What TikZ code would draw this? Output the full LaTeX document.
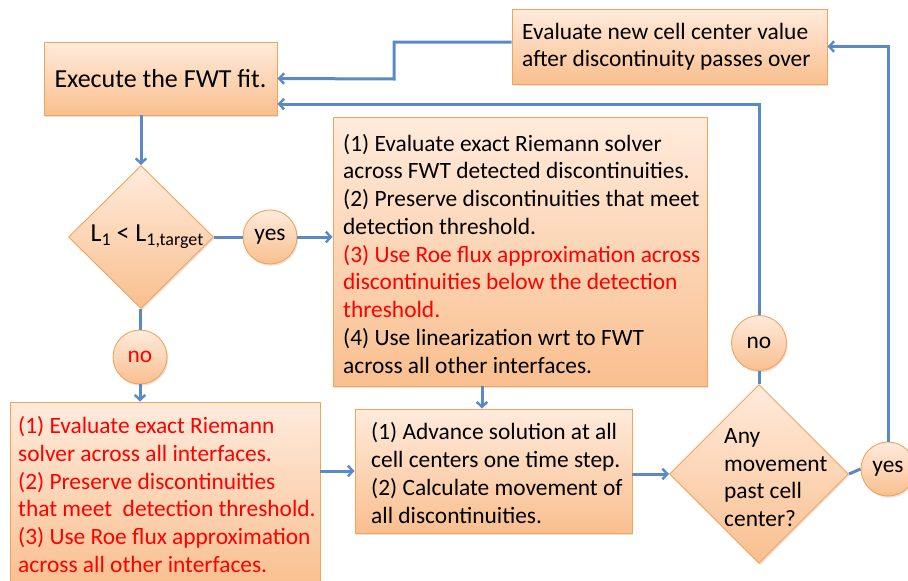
\documentclass[tikz,border=0pt]{standalone}
\usepackage{fontspec}
\setmainfont{Carlito}
\usetikzlibrary{shapes.geometric,arrows.meta,shadows}

\definecolor{boxtop}{HTML}{FFEBDC}
\definecolor{boxbot}{HTML}{F9BF8F}
\definecolor{boxline}{HTML}{F5A35A}
\definecolor{flowblue}{HTML}{5A8AC6}

\newcommand{\bodyfont}{\fontsize{23.4}{27.75}\selectfont}
\newcommand{\bigfont}{\fontsize{26}{30}\selectfont}
\newcommand{\subfont}{\fontsize{18}{18}\selectfont}
\newcommand{\lsub}[1]{\raisebox{-4pt}{\subfont #1}}
% stacked lines that never re-wrap
\newcommand{\textlines}[1]{\begin{tabular}{@{}l@{}}#1\end{tabular}}

\tikzset{
  shade/.style={draw=boxline, line width=0.9pt, top color=boxtop, bottom color=boxbot,
    drop shadow={shadow xshift=1.2pt, shadow yshift=-1.8pt, opacity=0.22}},
  box/.style={shade, rectangle, inner sep=0pt},
  boxtext/.style={inner sep=0pt, anchor=west, font=\bodyfont},
  decision/.style={shade, diamond, inner sep=0pt},
  answer/.style={shade, circle, inner sep=0pt, minimum size=54pt, font=\bodyfont},
  flow/.style={draw=flowblue, line width=3pt, line cap=butt,
    -{Straight Barb[length=5pt, width=10.5pt, line width=2.4pt]}},
  link/.style={draw=flowblue, line width=3pt}
}

\begin{document}
\begin{tikzpicture}[x=1pt, y=-1pt]
\useasboundingbox (0,0) rectangle (908,581);

% process boxes
\node[box, minimum width=233pt, minimum height=73pt, font=\bigfont]
  (exe) at (160.5,78.5) {Execute the FWT fit.};

\node[box, minimum width=315pt, minimum height=75pt] (eval) at (669.5,46.5) {};
\node[boxtext] (evaltxt) at (522,47.5)
  {\textlines{Evaluate new cell center value\\after discontinuity passes over}};

\node[box, minimum width=374pt, minimum height=269pt] (mid) at (520,251.5) {};
\node[boxtext] (midtxt) at (343,256.5) {\textlines{(1) Evaluate exact Riemann solver\\
    across FWT detected discontinuities.\\
    (2) Preserve discontinuities that meet\\
    detection threshold.\\
    \textcolor{red}{(3) Use Roe flux approximation across}\\
    \textcolor{red}{discontinuities below the detection}\\
    \textcolor{red}{threshold.}\\
    (4) Use linearization wrt to FWT\\
    across all other interfaces.}};

\node[box, minimum width=310pt, minimum height=186pt] (lb) at (165,495) {};
\node[boxtext, text=red] (lbtxt) at (18,497.5) {\textlines{(1) Evaluate exact Riemann\\
    solver across all interfaces.\\
    (2) Preserve discontinuities\\
    that meet\ \ detection threshold.\\
    (3) Use Roe flux approximation\\
    across all other interfaces.}};

\node[box, minimum width=277pt, minimum height=124pt] (adv) at (493.5,471) {};
\node[boxtext] (advtxt) at (371,476) {\textlines{(1) Advance solution at all\\
    cell centers one time step.\\
    (2) Calculate movement of\\
    all discontinuities.}};

% decisions
\node[decision, minimum width=145pt, minimum height=143pt] (d1) at (141,237) {};
\node[font=\bigfont, inner sep=0pt] (d1txt) at (147,237) {L\lsub{1} < L\lsub{1,target}};

\node[decision, minimum width=179pt, minimum height=179pt] (d2) at (759,474) {};
\node[boxtext] (d2txt) at (724,479.5) {\textlines{Any\\movement\\past cell\\center?}};

% answer bubbles
\node[answer] (yes1) at (270,237) {yes};
\node[answer, text=red] (no1) at (140,357) {no};
\node[answer, minimum size=55pt] (no2) at (759,343) {no};
\node[answer] (yes2) at (888,469) {yes};

% connectors
\coordinate (bend) at (394,79);
\draw[flow] (exe.south -| d1.north) -- (d1.north);
\draw[link] (d1.east) -- (yes1.west);
\draw[flow] (yes1.east) -- (yes1.east -| mid.west);
\draw[link] (d1.south -| no1.north) -- (no1.north);
\draw[flow] (no1.south) -- (no1.south |- lb.north);
\draw[flow] ([xshift=-38pt]mid.south) -- ([xshift=-38pt]mid.south |- adv.north);
\draw[flow] (adv.west -| lb.east) -- (adv.west);
\draw[flow] (d2.west -| adv.east) -- (d2.west);
\draw[link] (d2.north) -- (no2.south);
\draw[flow] (no2.north) |- ([yshift=-25.5pt]exe.east);
\draw[link] (d2.east) -- (yes2.west);
\draw[flow] (yes2.north) |- (eval.east);
\draw[flow] ([yshift=4.5pt]eval.west) -| (bend) -- (exe.east);
\end{tikzpicture}
\end{document}
